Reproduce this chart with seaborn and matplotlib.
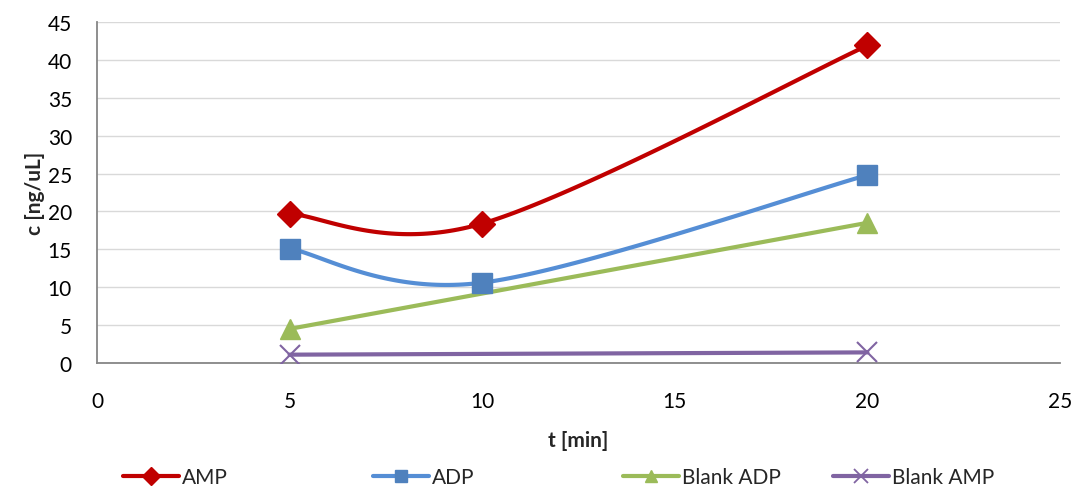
import numpy as np
import pandas as pd
import matplotlib
matplotlib.use("Agg")
import matplotlib.pyplot as plt
from matplotlib.lines import Line2D
import seaborn as sns

# ---- data ----
t_amp = [5, 10, 20]
c_amp = [19.7, 18.4, 41.9]
t_adp = [5, 10, 20]
c_adp = [15.1, 10.6, 24.8]
t_blank_adp = [5, 20]
c_blank_adp = [4.5, 18.5]
t_blank_amp = [5, 20]
c_blank_amp = [1.1, 1.4]

series_names = ["AMP", "ADP", "Blank ADP", "Blank AMP"]
x_ticks = [0, 5, 10, 15, 20, 25]
y_ticks = [0, 5, 10, 15, 20, 25, 30, 35, 40, 45]

sns.set_theme(style="white")
plt.rcParams["font.family"] = ["Lato", "DejaVu Sans"]


def smooth(xs, ys, n=60):
    """Excel-like smoothed line: Catmull-Rom style cubic Bezier through points."""
    xs = np.asarray(xs, float)
    ys = np.asarray(ys, float)
    P = np.column_stack([xs, ys])
    if len(P) < 3:
        return xs, ys
    out = []
    for i in range(len(P) - 1):
        p0 = P[i]
        p1 = P[i + 1]
        pm = P[i - 1] if i > 0 else P[i]
        pp = P[i + 2] if i + 2 < len(P) else P[i + 1]
        c1 = p0 + (p1 - pm) / 6.0
        c2 = p1 - (pp - p0) / 6.0
        t = np.linspace(0, 1, n)[:, None]
        b = ((1 - t) ** 3) * p0 + 3 * ((1 - t) ** 2) * t * c1 + 3 * (1 - t) * t ** 2 * c2 + t ** 3 * p1
        out.append(b if i == 0 else b[1:])
    B = np.vstack(out)
    return B[:, 0], B[:, 1]


specs = [
    ("AMP", t_amp, c_amp, "#C00000", "#C00000", "D", 13),
    ("ADP", t_adp, c_adp, "#558ED5", "#4F81BD", "s", 14),
    ("Blank ADP", t_blank_adp, c_blank_adp, "#9BBB59", "#9BBB59", "^", 15),
    ("Blank AMP", t_blank_amp, c_blank_amp, "#8064A2", "#8064A2", "x", 14),
]
legend_x_px = [123, 373, 623, 833]

fig = plt.figure(figsize=(10.91, 4.89), dpi=100)
ax = fig.add_axes([97 / 1091, 1 - 364 / 489, (1060 - 97) / 1091, (364 - 23) / 489])

handles = []
for name, xs, ys, lc, mc, mk, ms in specs:
    sx, sy = smooth(xs, ys)
    df = pd.DataFrame({"t": sx, "c": sy})
    sns.lineplot(data=df, x="t", y="c", ax=ax, color=lc, linewidth=3.0, sort=False,
                 estimator=None, legend=False)
    pts = pd.DataFrame({"t": xs, "c": ys})
    if mk == "x":
        ax.plot(pts["t"], pts["c"], linestyle="none", marker="x", markersize=ms,
                markeredgecolor=mc, markeredgewidth=1.5, zorder=5)
    else:
        ax.plot(pts["t"], pts["c"], linestyle="none", marker=mk, markersize=ms,
                markerfacecolor=mc, markeredgecolor=mc, zorder=5)
    handles.append(Line2D([0], [0], color=lc, linewidth=3.0, marker=mk,
                          markersize=9 if mk != "x" else 10, markerfacecolor=mc,
                          markeredgecolor=mc,
                          markeredgewidth=1.3 if mk == "x" else 1.0, label=name))

ax.set_xlim(0, 25)
ax.set_ylim(0, 45)
ax.set_xticks(x_ticks)
ax.set_yticks(y_ticks)
ax.tick_params(axis="both", labelsize=15, labelcolor="#000000")
ax.tick_params(axis="y", direction="in", length=7, width=1.2, color="#868686", pad=18)
ax.tick_params(axis="x", length=0, pad=20)
ax.yaxis.grid(True, color="#D9D9D9", linewidth=1)
ax.xaxis.grid(False)
ax.set_axisbelow(True)
for s in ["top", "right"]:
    ax.spines[s].set_visible(False)
for s in ["left", "bottom"]:
    ax.spines[s].set_color("#868686")
    ax.spines[s].set_linewidth(1.3)

ax.set_xlabel("t [min]", fontsize=15, fontweight="bold", labelpad=14)
ax.set_ylabel("c [ng/uL]", fontsize=15, fontweight="bold", labelpad=2)

for h, xp in zip(handles, legend_x_px):
    fig.legend(handles=[h], loc="center left", frameon=False, fontsize=15,
               bbox_to_anchor=(xp / 1091, 1 - 478 / 489), borderpad=0,
               borderaxespad=0, handlelength=2.7, handletextpad=0.15)

fig.savefig("out.png", dpi=100)
